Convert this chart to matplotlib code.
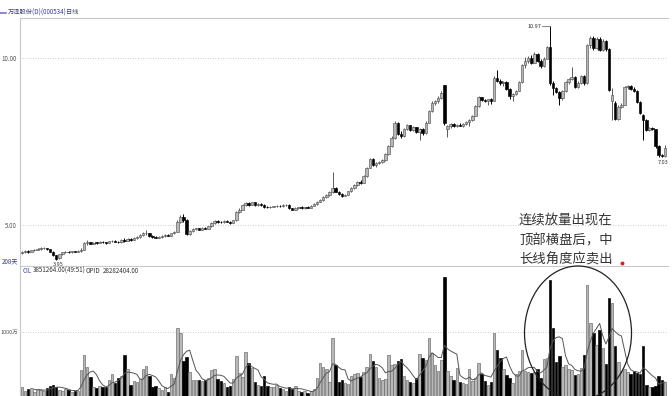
import matplotlib
matplotlib.use('Agg')
import matplotlib.pyplot as plt
from matplotlib.patches import Ellipse
import numpy as np

plt.rcParams['font.family'] = ['Noto Sans CJK SC', 'DejaVu Sans']

# daily candles, 208 days
opens = [4.15,4.18,4.22,4.20,4.24,4.26,4.28,4.30,4.31,4.27,
         4.20,4.09,4.00,4.12,4.18,4.20,4.18,4.21,4.20,4.22,
         4.25,4.46,4.48,4.44,4.47,4.46,4.50,4.48,4.46,4.51,
         4.53,4.50,4.48,4.56,4.52,4.58,4.55,4.61,4.64,4.69,
         4.75,4.76,4.66,4.64,4.62,4.64,4.67,4.70,4.68,4.75,
         4.80,5.10,5.25,5.15,4.73,4.82,4.88,4.90,4.86,4.92,
         4.89,4.96,5.06,5.12,5.09,5.08,5.12,5.10,5.06,5.14,
         5.38,5.46,5.60,5.66,5.61,5.68,5.60,5.64,5.60,5.55,
         5.53,5.55,5.56,5.58,5.56,5.59,5.61,5.50,5.46,5.51,
         5.53,5.50,5.54,5.52,5.58,5.63,5.70,5.75,5.85,5.90,
         5.98,6.12,6.00,5.92,5.88,5.91,6.01,6.10,6.20,6.30,
         6.27,6.46,6.72,6.97,6.80,6.85,6.90,6.95,7.12,7.36,
         7.60,8.05,7.72,7.65,7.86,7.98,7.83,7.92,7.79,7.86,
         7.74,8.06,8.40,8.66,8.70,8.80,9.18,7.88,7.95,8.02,
         7.97,8.00,7.96,8.03,8.08,8.15,8.27,8.55,8.82,8.74,
         8.71,8.76,8.72,9.40,9.32,9.25,9.28,9.08,8.85,8.92,
         9.02,9.27,9.78,9.92,10.00,9.86,10.12,9.92,9.76,9.98,
         10.33,9.25,9.10,8.98,8.80,9.00,9.27,9.38,9.42,9.14,
         9.25,9.45,9.24,10.38,10.60,10.30,10.58,10.24,10.52,10.26,
         8.70,8.65,8.18,8.53,8.60,9.12,9.16,9.08,9.02,8.68,
         8.30,8.14,7.84,7.89,7.86,7.36,7.10,7.06]
highs = [4.22,4.24,4.24,4.26,4.28,4.30,4.33,4.34,4.32,4.28,
         4.21,4.10,4.14,4.20,4.22,4.22,4.23,4.23,4.24,4.30,
         4.50,4.55,4.50,4.49,4.50,4.52,4.53,4.50,4.53,4.55,
         4.55,4.52,4.58,4.60,4.60,4.60,4.63,4.66,4.72,4.78,
         4.84,4.77,4.69,4.66,4.66,4.69,4.72,4.74,4.77,4.82,
         5.15,5.30,5.32,5.18,4.85,4.90,4.92,4.92,4.94,4.95,
         4.98,5.08,5.15,5.14,5.12,5.14,5.14,5.12,5.16,5.42,
         5.50,5.64,5.70,5.68,5.70,5.70,5.66,5.66,5.62,5.58,
         5.57,5.58,5.60,5.60,5.62,5.64,5.62,5.52,5.53,5.55,
         5.56,5.55,5.56,5.60,5.65,5.72,5.78,5.88,5.93,6.02,
         6.59,6.15,6.02,5.95,5.94,6.03,6.13,6.22,6.33,6.34,
         6.50,6.75,7.02,7.00,6.88,6.92,6.98,7.15,7.40,7.65,
         8.10,8.08,7.80,7.90,8.02,8.00,7.95,7.94,7.90,7.90,
         8.10,8.45,8.70,8.75,8.85,9.00,9.20,8.00,8.05,8.06,
         8.03,8.06,8.05,8.10,8.18,8.30,8.58,8.85,8.84,8.78,
         8.78,8.80,9.45,9.65,9.38,9.32,9.30,9.10,8.95,9.05,
         9.30,9.82,10.02,10.05,10.08,10.18,10.15,9.96,10.02,10.36,
         10.97,9.30,9.14,9.02,9.05,9.30,9.40,9.73,9.45,9.30,
         9.48,9.48,10.42,10.65,10.66,10.64,10.62,10.56,10.55,10.30,
         9.10,8.70,8.58,8.65,9.15,9.20,9.18,9.12,9.05,8.70,
         8.32,8.16,7.92,7.92,7.88,7.40,7.12,7.40]
lows = [4.13,4.16,4.17,4.19,4.22,4.24,4.26,4.27,4.25,4.18,
        4.06,3.95,3.98,4.10,4.15,4.16,4.17,4.18,4.18,4.20,
        4.24,4.40,4.42,4.42,4.44,4.45,4.46,4.44,4.45,4.49,
        4.48,4.46,4.47,4.50,4.51,4.53,4.54,4.58,4.62,4.67,
        4.70,4.64,4.61,4.60,4.60,4.62,4.65,4.66,4.67,4.73,
        4.79,5.05,5.08,4.70,4.70,4.79,4.85,4.84,4.85,4.87,
        4.88,4.95,5.04,5.07,5.05,5.06,5.08,5.04,5.05,5.12,
        5.35,5.44,5.58,5.58,5.60,5.58,5.58,5.58,5.52,5.50,
        5.51,5.53,5.54,5.54,5.55,5.57,5.48,5.44,5.45,5.49,
        5.48,5.49,5.50,5.51,5.56,5.61,5.68,5.73,5.82,5.88,
        5.96,5.98,5.90,5.85,5.86,5.90,5.99,6.08,6.18,6.24,
        6.25,6.44,6.70,6.78,6.75,6.82,6.86,6.93,7.10,7.34,
        7.58,7.68,7.60,7.62,7.84,7.80,7.80,7.76,7.55,7.70,
        7.72,8.04,8.38,8.60,8.66,8.78,8.00,7.62,7.90,7.94,
        7.92,7.95,7.94,7.98,7.95,8.12,8.25,8.53,8.70,8.68,
        8.60,8.62,8.70,9.28,9.20,9.15,9.05,8.78,8.70,8.90,
        9.00,9.25,9.70,9.85,9.82,9.84,9.88,9.70,9.74,9.96,
        9.20,8.90,8.94,8.59,8.75,8.98,9.22,9.35,9.10,9.10,
        9.22,9.20,9.22,10.30,10.25,10.28,10.20,10.20,10.20,9.00,
        8.14,8.15,8.14,8.50,8.58,9.08,9.05,8.98,8.64,8.32,
        7.54,7.80,7.80,7.84,7.32,7.05,7.03,7.04]
closes = [4.18,4.22,4.20,4.24,4.26,4.28,4.30,4.31,4.27,4.20,
          4.09,3.99,4.12,4.18,4.20,4.18,4.21,4.20,4.22,4.24,
          4.46,4.48,4.44,4.47,4.46,4.50,4.48,4.46,4.51,4.53,
          4.50,4.48,4.56,4.52,4.58,4.55,4.61,4.64,4.69,4.75,
          4.77,4.66,4.64,4.62,4.64,4.67,4.70,4.68,4.75,4.80,
          5.10,5.25,5.15,4.73,4.82,4.88,4.90,4.86,4.92,4.89,
          4.96,5.06,5.12,5.09,5.08,5.12,5.10,5.06,5.14,5.38,
          5.46,5.60,5.66,5.61,5.68,5.60,5.64,5.60,5.55,5.53,
          5.55,5.56,5.58,5.56,5.59,5.61,5.50,5.46,5.51,5.53,
          5.50,5.54,5.52,5.58,5.63,5.70,5.75,5.85,5.90,5.98,
          6.12,6.00,5.92,5.88,5.91,6.01,6.10,6.20,6.30,6.27,
          6.46,6.72,6.97,6.80,6.85,6.90,6.95,7.12,7.36,7.60,
          8.05,7.72,7.65,7.86,7.98,7.83,7.92,7.79,7.86,7.74,
          8.06,8.40,8.66,8.70,8.80,8.96,8.05,7.95,8.02,7.97,
          8.00,7.96,8.03,8.08,8.15,8.27,8.55,8.82,8.74,8.71,
          8.76,8.72,9.40,9.32,9.25,9.28,9.08,8.85,8.92,9.02,
          9.27,9.78,9.92,10.00,9.86,10.12,9.92,9.76,9.98,10.33,
          9.25,9.10,8.98,8.80,9.00,9.27,9.38,9.42,9.14,9.25,
          9.45,9.24,10.38,10.60,10.30,10.58,10.24,10.52,10.26,9.05,
          8.90,8.18,8.53,8.60,9.12,9.16,9.08,9.02,8.68,8.36,
          8.14,7.84,7.89,7.86,7.36,7.10,7.06,7.32]
# volume in 万 shares
volumes = [370,330,350,360,320,350,340,330,360,390,
           400,380,340,330,350,340,320,330,330,570,
           740,600,490,380,360,390,370,380,460,520,
           420,480,500,740,580,400,440,430,470,580,
           610,500,370,390,360,340,380,320,520,480,
           1045,990,670,720,540,460,450,450,440,460,
           480,570,580,470,440,420,380,390,470,730,
           530,490,770,650,590,430,400,390,500,390,
           380,370,400,360,350,330,380,350,390,330,
           320,330,310,330,350,480,650,600,580,430,
           930,620,430,455,420,410,500,520,530,490,
           540,600,750,675,600,480,460,470,740,620,
           640,675,690,500,460,430,420,480,750,700,
           680,930,760,620,560,680,1625,560,500,460,
           595,430,420,410,580,440,480,650,520,440,
           400,430,990,800,700,580,510,480,420,520,
           560,795,560,540,530,550,580,480,690,700,
           1590,1045,660,730,600,620,580,570,510,520,
           590,740,1530,1100,990,850,1020,820,640,1385,
           1330,840,660,560,580,540,520,560,530,520,
           840,400,380,370,390,500,455,435]

o = np.array(opens); h = np.array(highs); l = np.array(lows); c = np.array(closes)
v = np.array(volumes, dtype=float)
idx = np.arange(len(c))
up = c >= o

W, H = 672, 396
def box(x0, y0, x1, y1):
    return [x0 / W, 1 - y1 / H, (x1 - x0) / W, (y1 - y0) / H]

fig = plt.figure(figsize=(6.72, 3.96), dpi=100)
ax = fig.add_axes(box(20, 18, 668, 266))
axv = fig.add_axes(box(20, 267, 668, 420))

line_c = '#c8c8c8'
body_face = np.where(up, '#b8b8b8', 'black')
body_edge = np.where(up, '#555555', 'black')

# price candles
ax.vlines(idx, l, h, colors=np.where(up, '#5a5a5a', 'black'), lw=0.7, zorder=2)
ax.bar(idx, np.maximum(np.abs(c - o), 0.02), bottom=np.minimum(o, c), width=0.8,
       color=body_face, edgecolor=body_edge, linewidth=0.45, zorder=3)
ax.set_xlim(-0.64, 208.0)
ax.set_ylim(3.772, 11.198)
ax.set_yticks([5, 10])
ax.set_yticklabels(['5.00', '10.00'])
ax.set_xticks([])
ax.tick_params(axis='y', length=0, labelsize=4.5, labelcolor='#555555', pad=2.5)
ax.yaxis.grid(True, ls=(0, (1, 2)), color='#bbbbbb', lw=0.6)
ax.spines['right'].set_visible(False)
for s in ['left', 'top', 'bottom']:
    ax.spines[s].set_color(line_c)
    ax.spines[s].set_linewidth(0.8)

# volume bars + 5 day average
axv.bar(idx, v, width=0.8, color=body_face, edgecolor=np.where(up, '#666666', 'black'),
        linewidth=0.45, zorder=3)
ma5 = np.convolve(v, np.ones(5) / 5, mode='valid')
axv.plot(idx[4:], ma5, color='#555555', lw=0.7, zorder=4)
axv.set_xlim(-0.64, 208.0)
axv.set_ylim(0, 1738.6)
axv.set_yticks([1000])
axv.set_yticklabels(['1000万'])
axv.set_xticks([])
axv.tick_params(axis='y', length=0, labelsize=4.0, labelcolor='#555555', pad=1.5)
axv.yaxis.grid(True, ls=(0, (1, 2)), color='#bbbbbb', lw=0.6)
for s in ['right', 'top', 'bottom']:
    axv.spines[s].set_visible(False)
axv.spines['left'].set_color(line_c)
axv.spines['left'].set_linewidth(0.8)

# overlay in pixel coordinates for labels and annotation
ov = fig.add_axes([0, 0, 1, 1], facecolor='none')
ov.set_xlim(0, W)
ov.set_ylim(H, 0)
ov.axis('off')

ov.plot([0, 6], [13, 13], color='#7a7aa8', lw=1.2)
ov.text(8, 13, '万泽股份(D)(000534)日线', fontsize=4.5, color='#3a3a9a', va='center')
ov.text(2, 261, '208天', fontsize=4.5, color='#3a3a9a', va='center')
ov.text(53, 265, '3.95', fontsize=4, color='#333333', va='center')
ov.text(541, 26, '10.97', fontsize=4, color='#333333', va='center', ha='right')
ov.plot([542, 550], [26, 26], color='#555555', lw=0.5)
ov.text(668, 162, '7.03', fontsize=4, color='#333333', va='center', ha='right')
ov.text(23, 271, 'CIL', fontsize=4.5, color='#3a3a9a', va='center')
ov.text(33, 271, '3851264.00(49:51)', fontsize=4.5, color='#333333', va='center')
ov.text(86, 271, 'OPID', fontsize=4.5, color='#333333', va='center')
ov.text(103, 271, '28282404.00', fontsize=4.5, color='#333333', va='center')

ov.add_patch(Ellipse((578, 333), 107, 134, fill=False, ec='#222222', lw=0.9))
for k, line in enumerate(['连续放量出现在', '顶部横盘后，中', '长线角度应卖出']):
    ov.text(519, 220 + 20 * k, line, fontsize=9.6, color='#333333', va='center')
ov.plot([622], [263], 'o', color='#d42020', ms=1.8)

fig.savefig('out.png', dpi=100)
